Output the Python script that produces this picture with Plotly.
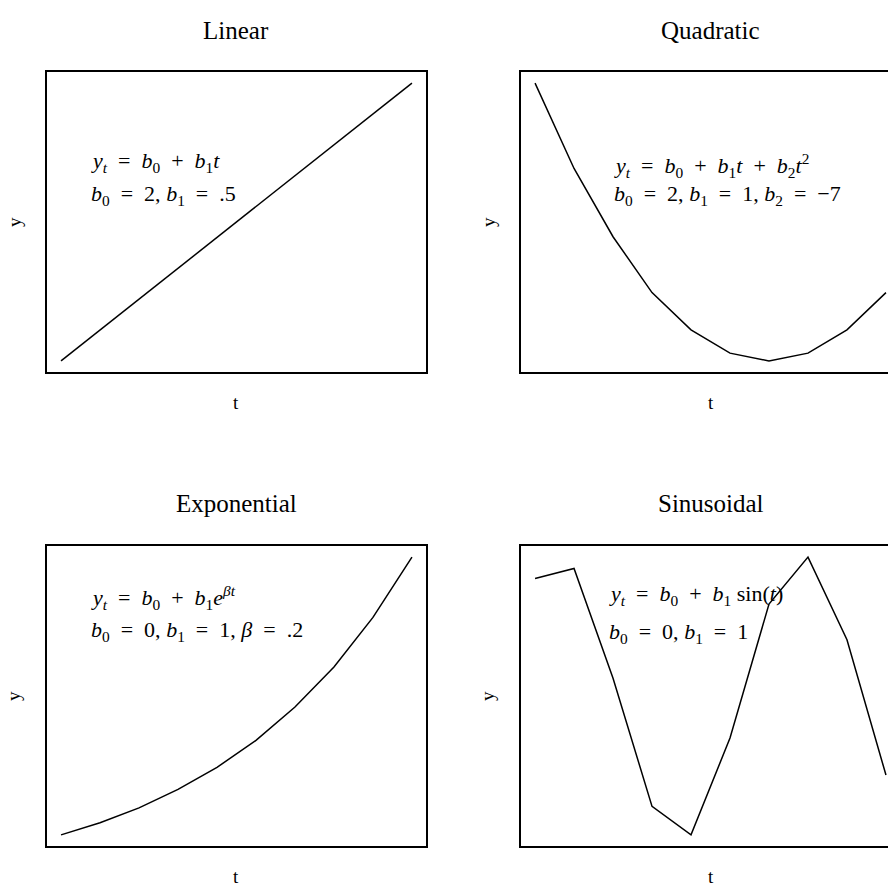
import plotly.graph_objects as go

# time index shared by all four panels
t = [1, 2, 3, 4, 5, 6, 7, 8, 9, 10]

# series values per panel
linear_y = [2.5, 3.0, 3.5, 4.0, 4.5, 5.0, 5.5, 6.0, 6.5, 7.0]
quadratic_y = [38, 27, 18.2, 11, 6.2, 3.2, 2.2, 3.2, 6.2, 11]
exponential_y = [1.22, 1.49, 1.82, 2.23, 2.72, 3.32, 4.06, 4.95, 6.05, 7.39]
sinusoidal_y = [0.84, 0.91, 0.14, -0.76, -0.96, -0.28, 0.66, 0.99, 0.41, -0.54]

titles = ["Linear", "Quadratic", "Exponential", "Sinusoidal"]

EQ = "\u2002=\u2002"
PL = "\u2002+\u2002"


def v(s):
    return "<i>" + s + "</i>"


formulas = [
    (v("y<sub>t</sub>") + EQ + v("b") + "<sub>0</sub>" + PL + v("b") + "<sub>1</sub>" + v("t"),
     v("b") + "<sub>0</sub>" + EQ + "2, " + v("b") + "<sub>1</sub>" + EQ + ".5"),
    (v("y<sub>t</sub>") + EQ + v("b") + "<sub>0</sub>" + PL + v("b") + "<sub>1</sub>" + v("t")
     + PL + v("b") + "<sub>2</sub>" + v("t") + "<sup>2</sup>",
     v("b") + "<sub>0</sub>" + EQ + "2, " + v("b") + "<sub>1</sub>" + EQ + "1, "
     + v("b") + "<sub>2</sub>" + EQ + "−7"),
    (v("y<sub>t</sub>") + EQ + v("b") + "<sub>0</sub>" + PL + v("b") + "<sub>1</sub>"
     + v("e") + "<sup>" + v("βt") + "</sup>",
     v("b") + "<sub>0</sub>" + EQ + "0, " + v("b") + "<sub>1</sub>" + EQ + "1, "
     + v("β") + EQ + ".2"),
    (v("y<sub>t</sub>") + EQ + v("b") + "<sub>0</sub>" + PL + v("b") + "<sub>1</sub>"
     + " sin(" + v("t") + ")",
     v("b") + "<sub>0</sub>" + EQ + "0, " + v("b") + "<sub>1</sub>" + EQ + "1"),
]
series = [linear_y, quadratic_y, exponential_y, sinusoidal_y]

# panel geometry (paper fractions)
x_domains = [[0.0, 0.4443], [0.5557, 1.0], [0.0, 0.4443], [0.5557, 1.0]]
y_domains = [[0.6124, 1.0], [0.6124, 1.0], [0.0, 0.3876], [0.0, 0.3876]]
# formula placement inside each panel (domain fractions: x, y of line 1, y of line 2)
formula_pos = [(0.11, 0.70, 0.59), (0.24, 0.69, 0.59),
               (0.11, 0.827, 0.715), (0.228, 0.835, 0.71)]

FONT = "Liberation Serif"


def padded(vals, frac=0.04):
    lo, hi = min(vals), max(vals)
    pad = (hi - lo) * frac
    return [lo - pad, hi + pad]


fig = go.Figure()
annotations = []
layout_axes = {}

for i in range(4):
    n = "" if i == 0 else str(i + 1)
    xa, ya = "x" + n, "y" + n
    fig.add_trace(go.Scatter(x=t, y=series[i], mode="lines",
                             line=dict(color="black", width=1.5),
                             xaxis=xa, yaxis=ya, showlegend=False,
                             hoverinfo="skip"))
    axis_style = dict(showline=True, mirror=True, linecolor="black", linewidth=2,
                      showgrid=False, zeroline=False, showticklabels=False,
                      ticks="", fixedrange=True)
    layout_axes["xaxis" + n] = dict(domain=x_domains[i], anchor=ya,
                                    range=padded(t), **axis_style)
    layout_axes["yaxis" + n] = dict(domain=y_domains[i], anchor=xa,
                                    range=padded(series[i]), **axis_style)

    xd = xa + " domain"
    yd = ya + " domain"
    # panel title
    annotations.append(dict(text=titles[i], xref=xd, yref=yd, x=0.5, y=1,
                            yshift=42, showarrow=False, xanchor="center",
                            yanchor="middle",
                            font=dict(family=FONT, size=25, color="black")))
    # axis labels
    annotations.append(dict(text="t", xref=xd, yref=yd, x=0.5, y=0,
                            yshift=-30, showarrow=False, xanchor="center",
                            yanchor="middle",
                            font=dict(family=FONT, size=19, color="black")))
    annotations.append(dict(text="y", xref=xd, yref=yd, x=0, y=0.5,
                            xshift=-33, showarrow=False, textangle=-90,
                            xanchor="center", yanchor="middle",
                            font=dict(family=FONT, size=19, color="black")))
    # model formula and parameters
    fx, fy1, fy2 = formula_pos[i]
    for txt, fy in zip(formulas[i], (fy1, fy2)):
        annotations.append(dict(text=txt, xref=xd, yref=yd, x=fx, y=fy,
                                showarrow=False, xanchor="left",
                                yanchor="middle",
                                font=dict(family=FONT, size=22, color="black")))

fig.update_layout(
    width=950, height=884,
    margin=dict(l=47, r=50, t=72, b=38),
    paper_bgcolor="white", plot_bgcolor="white",
    annotations=annotations,
    **layout_axes,
)

fig.write_html("out.html")
